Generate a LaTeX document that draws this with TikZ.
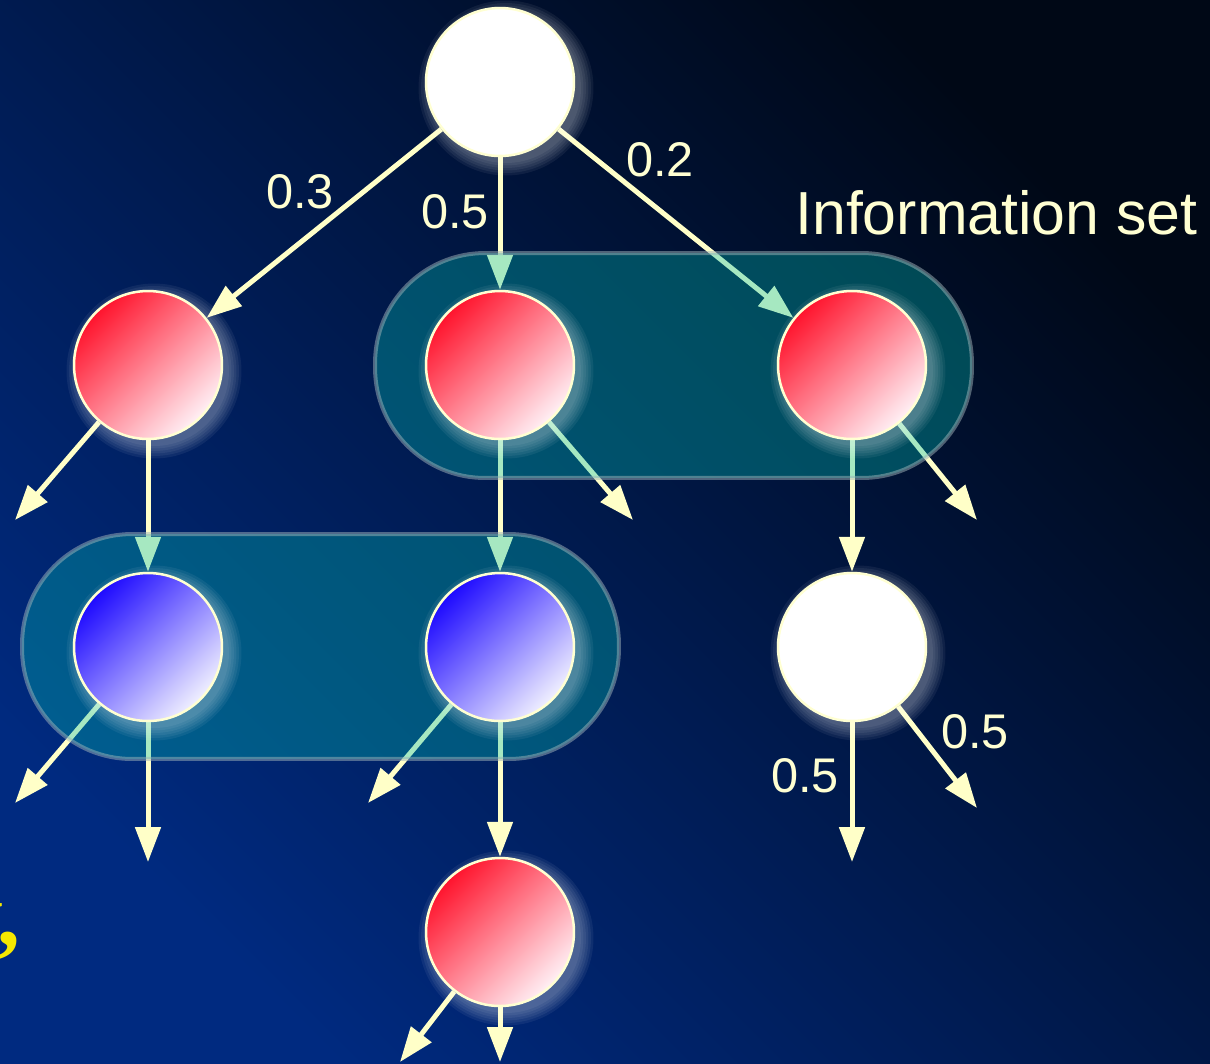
\documentclass[tikz,border=0pt]{standalone}
\usepackage{fontspec}
\setmainfont{Liberation Sans}
\newfontfamily\serifb{Liberation Serif}
\usetikzlibrary{arrows.meta}
\pgfdeclarelayer{bglayer}
\pgfdeclarelayer{arrlayer}
\pgfdeclarelayer{boxlayer}
\pgfdeclarelayer{glowlayer}
\pgfsetlayers{bglayer,arrlayer,boxlayer,glowlayer,main}
\definecolor{bgA}{RGB}{0,8,22}
\definecolor{bgB}{RGB}{0,42,128}
\definecolor{arr}{RGB}{255,255,200}
\definecolor{lbl}{RGB}{255,255,210}
\definecolor{isfill}{RGB}{0,190,180}
\definecolor{isdraw}{RGB}{160,180,185}
\definecolor{redA}{RGB}{255,20,45}
\definecolor{redB}{RGB}{255,240,245}
\definecolor{bluA}{RGB}{30,10,255}
\definecolor{bluB}{RGB}{240,240,255}
\definecolor{yel}{RGB}{245,232,0}
\newcommand\glowat[1]{%
  \foreach \rr in {1.50,1.55,1.60,1.65,1.70,1.75}{%
    \fill[white,opacity=0.06] ([shift={(6,6)}]#1.center) circle[radius=\rr cm];}}
\begin{document}
\begin{tikzpicture}[x=0.02cm,y=-0.02cm,
 conn/.style={draw=arr, line width=0.1cm, -{Triangle[length=0.7cm,width=0.5cm]}},
 nodec/.style={circle, minimum size=2.96cm, inner sep=0pt, draw=lbl, line width=0.05cm},
 whitec/.style={nodec, fill=white},
 redc/.style={nodec, top color=redA, bottom color=redB, shading angle=45},
 bluec/.style={nodec, top color=bluA, bottom color=bluB, shading angle=45},
 infoset/.style={rectangle, rounded corners=2.2cm, minimum width=11.94cm, minimum height=4.5cm, fill=isfill, fill opacity=0.35, draw=isdraw, draw opacity=0.5, line width=0.08cm},
 lab/.style={text=lbl, font=\fontsize{27.7}{30}\selectfont, inner sep=0pt},
]
\useasboundingbox (0,0) rectangle (1210,1063);
\begin{pgfonlayer}{bglayer}
\shade[top color=bgA, bottom color=bgB, shading angle=-45] (0,0) rectangle (1210,1063);
\end{pgfonlayer}

% nodes
\node[whitec] (r) at (500,82) {};
\node[redc] (a1) at (148,365) {};
\node[redc] (a2) at (500,365) {};
\node[redc] (a3) at (852,365) {};
\node[bluec] (b1) at (148,647) {};
\node[bluec] (b2) at (500,647) {};
\node[whitec] (b3) at (852,647) {};
\node[redc] (c1) at (500,932) {};

% free ends
\coordinate (t1) at (15,520);
\coordinate (t2) at (633,520);
\coordinate (t3) at (977,520);
\coordinate (t4) at (15,803);
\coordinate (t5) at (148,862);
\coordinate (t6) at (368,803);
\coordinate (t7) at (852,862);
\coordinate (t8) at (977,808);
\coordinate (t9) at (400,1062);
\coordinate (t10) at (500,1062);

\begin{pgfonlayer}{arrlayer}
\draw[conn] (r) -- (a1);
\draw[conn] (r) -- (a2);
\draw[conn] (r) -- (a3);
\draw[conn] (a1) -- (t1);
\draw[conn] (a1) -- (b1);
\draw[conn] (a2) -- (t2);
\draw[conn] (a2) -- (b2);
\draw[conn] (a3) -- (t3);
\draw[conn] (a3) -- (b3);
\draw[conn] (b1) -- (t4);
\draw[conn] (b1) -- (t5);
\draw[conn] (b2) -- (t6);
\draw[conn] (b2) -- (c1);
\draw[conn] (b3) -- (t7);
\draw[conn] (b3) -- (t8);
\draw[conn] (c1) -- (t9);
\draw[conn] (c1) -- (t10);
\end{pgfonlayer}

\begin{pgfonlayer}{boxlayer}
\node[infoset] (is1) at (673.5,365.5) {};
\node[infoset] (is2) at (320.5,646.5) {};
\end{pgfonlayer}

\begin{pgfonlayer}{glowlayer}
\glowat{r}\glowat{a1}\glowat{a2}\glowat{a3}\glowat{b1}\glowat{b2}\glowat{b3}\glowat{c1}
\end{pgfonlayer}

% labels
\node[lab] (l03) at (300,192) {0.3};
\node[lab] (l05) at (455,212) {0.5};
\node[lab] (l02) at (660,160) {0.2};
\node[lab, font=\fontsize{34.6}{39}\selectfont, anchor=west] (lis) at (795,213) {Information set};
\node[lab] (l05b) at (805,776) {0.5};
\node[lab] (l05c) at (975,732) {0.5};
\node[text=yel, font=\serifb\bfseries\fontsize{52}{56}\selectfont, anchor=base east, inner sep=0pt] (yc) at (21,945) {y,};
\end{tikzpicture}
\end{document}
